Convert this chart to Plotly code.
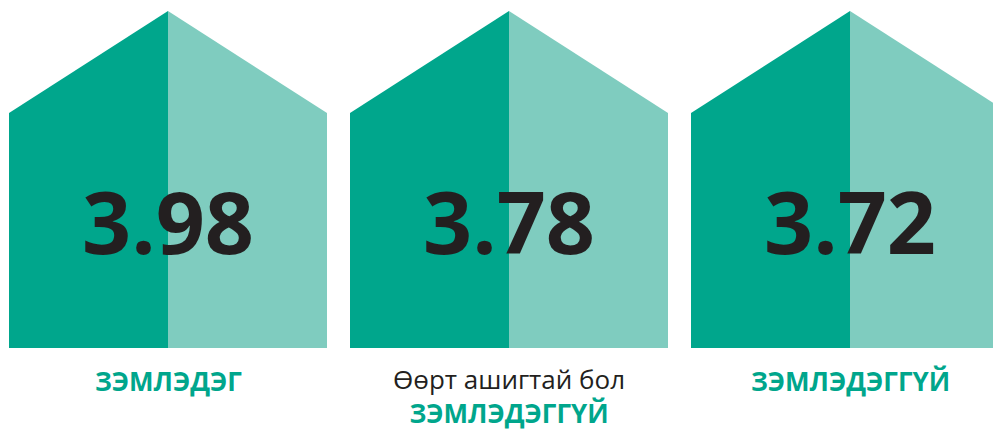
import plotly.graph_objects as go

# chart data
values = [3.98, 3.78, 3.72]
label_top = ["", "Өөрт ашигтай бол", ""]
label_main = ["ЗЭМЛЭДЭГ", "ЗЭМЛЭДЭГГҮЙ", "ЗЭМЛЭДЭГГҮЙ"]

DARK = "#00A68C"
LIGHT = "#7FCCBF"
TEXT = "#231F20"

# house geometry in pixel space
centers = [168, 509, 850]
half_w = 159
apex_y, shoulder_y, base_y = 11, 113, 348

fig = go.Figure()
for cx in centers:
    left = cx - half_w
    right = cx + half_w
    fig.add_trace(go.Scatter(
        x=[left, cx, cx, left, left],
        y=[shoulder_y, apex_y, base_y, base_y, shoulder_y],
        fill="toself", fillcolor=DARK, mode="none",
        hoverinfo="skip", showlegend=False,
    ))
    fig.add_trace(go.Scatter(
        x=[cx, right, right, cx, cx],
        y=[apex_y, shoulder_y, base_y, base_y, apex_y],
        fill="toself", fillcolor=LIGHT, mode="none",
        hoverinfo="skip", showlegend=False,
    ))

for cx, v, top, main in zip(centers, values, label_top, label_main):
    fig.add_annotation(
        x=cx, y=220, text=f"<b>{v:.2f}</b>", showarrow=False,
        font=dict(family="Open Sans", size=86, color=TEXT),
        xanchor="center", yanchor="middle",
    )
    main_txt = f"<b><span style='color:{DARK}'>{main}</span></b>"
    if top:
        txt, y = f"{top}<br>{main_txt}", 395.5
    else:
        txt, y = main_txt, 381
    fig.add_annotation(
        x=cx, y=y, text=txt, showarrow=False, borderpad=0,
        font=dict(family="Open Sans", size=26, color=TEXT),
        xanchor="center", yanchor="middle", align="center",
    )

# page body adds an 8px offset, so the plot covers pixels 8..1001 / 8..430
fig.update_xaxes(range=[8, 1001], visible=False, fixedrange=True)
fig.update_yaxes(range=[430, 8], visible=False, fixedrange=True)
fig.update_layout(
    width=993, height=422,
    margin=dict(l=0, r=0, t=0, b=0),
    plot_bgcolor="white", paper_bgcolor="white",
)
fig.write_html("out.html")
